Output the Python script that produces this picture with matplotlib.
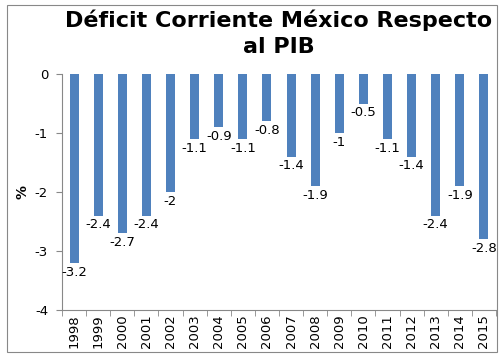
import matplotlib
matplotlib.use("Agg")
import matplotlib.pyplot as plt
from matplotlib.patches import Rectangle

years = [str(y) for y in range(1998, 2016)]
values = [-3.2, -2.4, -2.7, -2.4, -2, -1.1, -0.9, -1.1, -0.8, -1.4, -1.9, -1, -0.5, -1.1, -1.4, -2.4, -1.9, -2.8]
labels = ["-3.2", "-2.4", "-2.7", "-2.4", "-2", "-1.1", "-0.9", "-1.1", "-0.8", "-1.4", "-1.9", "-1", "-0.5", "-1.1", "-1.4", "-2.4", "-1.9", "-2.8"]

W, H = 503, 359
fig = plt.figure(figsize=(W/100, H/100), dpi=100)
fig.patches.append(Rectangle((7/W, 1-352/H), 490/W, 347/H, transform=fig.transFigure,
                             fill=False, edgecolor="#888888", linewidth=0.8))
ax = fig.add_axes([62/W, 1-310/H, 434/W, 236/H])
x = list(range(len(years)))
ax.bar(x, values, width=0.37, color="#4F81BD", zorder=2)
for xi, v, lab in zip(x, values, labels):
    ax.annotate(lab, (xi, v), xytext=(0, -2), textcoords="offset points",
                ha="center", va="top", fontsize=9.5, color="black")
ax.set_xlim(-0.5, len(years)-0.5)
ax.set_ylim(-4, 0)
ax.set_yticks([0, -1, -2, -3, -4])
ax.set_yticklabels(["0", "-1", "-2", "-3", "-4"], fontsize=9.5)
ax.set_xticks(x)
ax.set_xticklabels(years, rotation=90, fontsize=9.5)
ax.set_xticks([i-0.5 for i in range(len(years)+1)], minor=True)
ax.tick_params(axis="x", which="major", length=0, pad=3)
ax.tick_params(axis="x", which="minor", length=4, color="#888888")
ax.tick_params(axis="y", length=4, color="#888888", pad=6)
for s in ["top", "right"]:
    ax.spines[s].set_visible(False)
for s in ["left", "bottom"]:
    ax.spines[s].set_color("#888888")
    ax.spines[s].set_linewidth(0.8)
ax.set_ylabel("%", fontsize=10, fontweight="bold", labelpad=4)
fig.text(279/W, 1-33/H, "Déficit Corriente México Respecto\nal PIB", ha="center", va="center",
         fontsize=16, fontweight="bold", linespacing=1.4)
fig.savefig("out.png", dpi=100)
